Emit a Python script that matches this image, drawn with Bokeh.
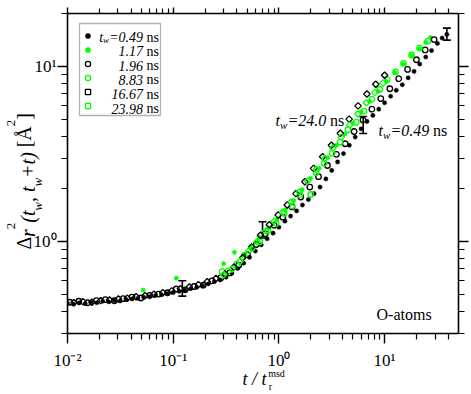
from bokeh.plotting import figure
from bokeh.models import (LogAxis, FixedTicker, Label, Legend, LegendItem,
                          Whisker, TeeHead, ColumnDataSource, BoxAnnotation)
from bokeh.embed import file_html
from bokeh.resources import INLINE
import math

# ---------------- data ----------------
# t_w = 0.49 ns (black filled circles)
x_049 = [0.0100, 0.0114, 0.0129, 0.0147, 0.0167, 0.0190, 0.0215, 0.0245, 0.0278, 0.0316,
         0.0359, 0.0408, 0.0464, 0.0527, 0.0599, 0.0681, 0.0774, 0.0880, 0.100, 0.114,
         0.129, 0.147, 0.167, 0.190, 0.215, 0.245, 0.278, 0.316, 0.359, 0.408,
         0.464, 0.527, 0.599, 0.681, 0.774, 0.880, 1.00, 1.14, 1.29, 1.47,
         1.67, 1.90, 2.15, 2.45, 2.78, 3.16, 3.59, 4.08, 4.64, 5.27,
         5.99, 6.81, 7.74, 8.80, 10.0, 11.4, 12.9, 14.7, 16.7, 19.0,
         21.5, 24.5, 27.8, 31.6, 35.0, 38.8]
y_049 = [0.446, 0.441, 0.448, 0.444, 0.452, 0.449, 0.458, 0.455, 0.463, 0.460,
         0.468, 0.472, 0.476, 0.482, 0.487, 0.494, 0.499, 0.506, 0.514, 0.522,
         0.530, 0.541, 0.550, 0.563, 0.576, 0.592, 0.606, 0.628, 0.662, 0.705,
         0.755, 0.815, 0.885, 0.960, 1.04, 1.12, 1.21, 1.31, 1.40, 1.50,
         1.62, 1.74, 1.88, 2.05, 2.28, 2.55, 2.85, 3.18, 3.55, 3.95,
         4.40, 4.85, 5.25, 5.70, 6.20, 6.75, 7.30, 7.85, 8.60, 9.35,
         10.3, 11.3, 12.3, 13.5, 14.5, 15.2]

# t_w = 1.17 ns (green filled circles)
x_117 = [0.052, 0.107, 0.30, 0.38, 0.46, 0.55, 0.66, 0.80, 0.96, 1.15,
         1.38, 1.66, 2.0, 2.4, 2.9, 3.5, 4.2, 5.0, 6.0, 7.2,
         8.7, 10.4, 12.5, 15.0, 18.0, 21.5, 24.5, 27.2]
y_117 = [0.530, 0.620, 0.750, 0.870, 0.840, 0.930, 1.06, 1.20, 1.34, 1.52,
         1.72, 1.98, 2.30, 2.62, 3.02, 3.55, 4.10, 4.75, 5.50, 6.30,
         7.20, 8.20, 9.20, 10.3, 11.5, 12.6, 13.7, 14.6]

# t_w = 1.96 ns (black open circles)
x_196 = [0.0105, 0.0128, 0.0155, 0.0188, 0.0228, 0.0277, 0.0336, 0.0408, 0.0495, 0.0600,
         0.0728, 0.0884, 0.107, 0.130, 0.158, 0.192, 0.233, 0.282, 0.343, 0.416,
         0.505, 0.612, 0.743, 0.902, 1.09, 1.33, 1.61, 1.96, 2.37, 2.88,
         3.50, 4.24, 5.15, 6.25, 7.58, 9.20, 11.2, 13.6, 16.5, 20.0,
         24.2, 29.4]
y_196 = [0.452, 0.458, 0.449, 0.462, 0.468, 0.461, 0.474, 0.483, 0.478, 0.495,
         0.503, 0.512, 0.538, 0.532, 0.556, 0.566, 0.598, 0.622, 0.664, 0.735,
         0.845, 0.965, 1.11, 1.24, 1.38, 1.58, 1.80, 2.05, 2.35, 2.72,
         3.15, 3.62, 4.25, 4.95, 5.70, 6.55, 7.45, 8.50, 9.60, 10.9,
         12.4, 14.2]

# t_w = 8.83 ns (green open circles)
x_883 = [0.29, 0.33, 0.40, 0.47, 0.56, 0.66, 0.79, 0.94, 1.12, 1.33,
         1.58, 2.0, 2.25, 2.68, 3.19, 3.79, 4.5, 5.4, 6.4, 7.6,
         9.0, 10.6, 12.7, 15.1, 18.0, 21.4, 25.6]
y_883 = [0.675, 0.680, 0.745, 0.840, 0.920, 1.00, 1.16, 1.27, 1.45, 1.60,
         1.85, 1.86, 2.48, 2.80, 3.20, 3.70, 4.35, 4.80, 5.55, 6.50,
         7.40, 8.40, 9.30, 10.4, 11.6, 12.7, 13.9]

# t_w = 16.67 ns (black open diamonds)
x_1667 = [0.0115, 0.0140, 0.0170, 0.0206, 0.0250, 0.0303, 0.0368, 0.0446, 0.0541, 0.0657,
          0.0797, 0.0967, 0.117, 0.142, 0.173, 0.210, 0.254, 0.309, 0.375, 0.455,
          0.552, 0.669, 0.812, 0.985, 1.20, 1.45, 1.76, 2.13, 2.59, 3.14,
          3.81, 4.62, 5.61, 6.80, 8.25, 10.0]
y_1667 = [0.450, 0.456, 0.452, 0.462, 0.466, 0.472, 0.476, 0.486, 0.492, 0.502,
          0.512, 0.525, 0.540, 0.552, 0.570, 0.592, 0.618, 0.655, 0.715, 0.810,
          0.935, 1.09, 1.25, 1.42, 1.62, 1.88, 2.20, 2.62, 3.05, 3.55,
          4.15, 5.00, 5.95, 6.95, 7.90, 8.90]

# t_w = 23.98 ns (green open diamonds)
x_2398 = [0.30, 0.36, 0.43, 0.52, 0.62, 0.75, 0.90, 1.08, 1.30, 1.56,
          1.87, 2.25, 2.70, 3.24, 3.89, 4.67, 5.60, 6.72, 8.07, 9.68]
y_2398 = [0.648, 0.700, 0.775, 0.890, 1.00, 1.15, 1.31, 1.47, 1.68, 1.92,
          2.22, 2.58, 2.98, 3.42, 3.95, 4.62, 5.35, 6.20, 7.10, 8.05]

# error bars
err_x = [0.122, 0.70, 6.27, 38.8]
err_lo = [0.49, 1.05, 4.14, 14.1]
err_hi = [0.60, 1.30, 5.18, 16.5]

x_major = [0.01, 0.1, 1, 10]
x_minor = [0.02, 0.03, 0.04, 0.05, 0.06, 0.07, 0.08, 0.09,
           0.2, 0.3, 0.4, 0.5, 0.6, 0.7, 0.8, 0.9,
           2, 3, 4, 5, 6, 7, 8, 9, 20, 30, 40]
x_labels = ["10\u207b\u00b2", "10\u207b\u00b9", "10\u2070", "10\u00b9"]
y_major = [1, 10]
y_minor = [0.3, 0.4, 0.5, 0.6, 0.7, 0.8, 0.9, 2, 3, 4, 5, 6, 7, 8, 9, 20]
y_labels = ["10\u2070", "10\u00b9"]

legend_nums = ["=0.49", "1.17", "1.96", "8.83", "16.67", "23.98"]

# ---------------- figure ----------------
FONT = "Liberation Serif"
GREEN = "#00ff00"
X0, X1, Y0, Y1 = 0.01, 50.0, 0.3, 20.0

# frame position in page pixels
FL, FB, FW, FH = 67, 335, 391, 322

p = figure(width=471, height=394, x_axis_type="log", y_axis_type="log",
           x_range=(X0, X1), y_range=(Y0, Y1), output_backend="svg",
           toolbar_location=None, min_border_left=67, min_border_right=13,
           min_border_top=13, min_border_bottom=59)
p.outline_line_color = None
p.xgrid.visible = False
p.ygrid.visible = False
p.background_fill_color = "white"
p.border_fill_color = "white"


def px2x(X):
    a, b = math.log10(X0), math.log10(X1)
    return round(10 ** (a + (X - FL) / FW * (b - a)), 9)


def px2y(Y):
    a, b = math.log10(Y0), math.log10(Y1)
    return round(10 ** (a + (FB - Y) / FH * (b - a)), 9)


def style_axis(ax, major_out, minor_out):
    ax.axis_line_width = 1.6
    ax.axis_line_color = "black"
    ax.major_tick_line_width = 1.4
    ax.minor_tick_line_width = 1.2
    ax.major_tick_line_color = "black"
    ax.minor_tick_line_color = "black"
    ax.major_tick_in = 0
    ax.minor_tick_in = 0
    ax.major_tick_out = major_out
    ax.minor_tick_out = minor_out
    ax.major_label_text_font = FONT
    ax.major_label_text_font_size = "17px"
    ax.major_label_text_color = "black"


xa = p.xaxis[0]
xa.ticker = FixedTicker(ticks=x_major, minor_ticks=x_minor)
xa.major_label_overrides = {v: s for v, s in zip(x_major, x_labels)}
style_axis(xa, 10, 6)
xa.major_label_standoff = 7

ya = p.yaxis[0]
ya.ticker = FixedTicker(ticks=y_major, minor_ticks=y_minor)
ya.major_label_overrides = {v: s for v, s in zip(y_major, y_labels)}
style_axis(ya, 10, 6)
ya.major_label_standoff = 1

top = LogAxis(ticker=FixedTicker(ticks=x_major, minor_ticks=x_minor))
style_axis(top, 6, 5)
top.major_label_overrides = {v: "" for v in x_major}
top.major_label_standoff = 0
p.add_layout(top, "above")

right = LogAxis(ticker=FixedTicker(ticks=y_major, minor_ticks=y_minor))
style_axis(right, 10, 6)
right.major_label_overrides = {v: "" for v in y_major}
right.major_label_standoff = 0
p.add_layout(right, "right")

# ---------------- data renderers ----------------
rA = p.scatter(x_049, y_049, marker="circle", size=4.2, fill_color="black",
               line_color="black", line_width=0.5)
rB = p.scatter(x_117, y_117, marker="circle", size=4.2, fill_color=GREEN,
               line_color=GREEN, line_width=0.5)
rC = p.scatter(x_196, y_196, marker="circle", size=5.5, fill_color=None,
               line_color="black", line_width=1.3)
rD = p.scatter(x_883, y_883, marker="circle", size=5.5, fill_color=None,
               line_color=GREEN, line_width=1.3)
rE = p.scatter(x_1667, y_1667, marker="square", angle=math.pi / 4, size=4.6,
               fill_color=None, line_color="black", line_width=1.3)
rF = p.scatter(x_2398, y_2398, marker="square", angle=math.pi / 4, size=4.6,
               fill_color=None, line_color=GREEN, line_width=1.3)

err_src = ColumnDataSource(dict(x=err_x, lo=err_lo, hi=err_hi))
p.add_layout(Whisker(source=err_src, base="x", lower="lo", upper="hi",
                     dimension="height", line_color="black", line_width=1.6,
                     upper_head=TeeHead(size=8, line_width=1.6, line_color="black"),
                     lower_head=TeeHead(size=8, line_width=1.6, line_color="black")))

# ---------------- legend ----------------
p.add_layout(BoxAnnotation(left=79 - FL, right=160 - FL, bottom=FB - 117, top=FB - 25,
                           left_units="screen", right_units="screen",
                           bottom_units="screen", top_units="screen",
                           fill_color="white", fill_alpha=1.0,
                           line_color="black", line_width=1.3))

items = [LegendItem(label=" ", renderers=[r]) for r in (rA, rB, rC, rD, rE, rF)]
leg = Legend(items=items, location=(77 - FL, FB - 118), orientation="vertical",
             padding=4, margin=0, spacing=1, glyph_width=13, glyph_height=13,
             label_height=13, label_width=10, label_standoff=2,
             label_text_font_size="8px", border_line_alpha=0,
             background_fill_alpha=0.0)
p.add_layout(leg)


def lab(text, X, Y, size, style="normal", align="left"):
    p.add_layout(Label(x=X - FL, y=FB - Y, x_units="screen", y_units="screen",
                       text=text, text_font=FONT, text_font_size=f"{size}px",
                       text_font_style=style, text_align=align,
                       text_baseline="alphabetic", text_color="black"))


# legend texts
row_base = [38.5, 52.8, 67.1, 81.4, 95.7, 110.0]
for i, (num, yb) in enumerate(zip(legend_nums, row_base)):
    lab("ns", 158.5, yb, 14, "normal", "right")
    lab(num, 142.6, yb, 14, "italic", "right")
    if i == 0:
        lab("w", 108.6, yb + 3, 9, "italic", "right")
        lab("t", 102.6, yb, 14, "italic", "right")

# in-plot annotations
lab("t", 275, 122, 16, "italic")
lab("w", 279.5, 126, 11, "italic")
lab("=24.0", 287, 122, 16, "italic")
lab("ns", 329.5, 122, 16)

lab("t", 378, 132, 16, "italic")
lab("w", 382.5, 136, 11, "italic")
lab("=0.49", 390, 132, 16, "italic")
lab("ns", 432.5, 132, 16)

lab("O-atoms", 376, 316, 16)


# ---------------- axis titles: text-only axes stacked in the side panels ----
def text_axis(side, ticks, texts, size, style, standoff):
    ax = LogAxis(ticker=FixedTicker(ticks=ticks, minor_ticks=[]))
    ax.axis_line_color = None
    ax.major_tick_line_color = None
    ax.minor_tick_line_color = None
    ax.major_tick_out = 0
    ax.minor_tick_out = 0
    ax.major_tick_in = 0
    ax.minor_tick_in = 0
    ax.major_label_overrides = dict(zip(ticks, texts))
    ax.major_label_text_font = FONT
    ax.major_label_text_font_size = f"{size}px"
    ax.major_label_text_font_style = style
    ax.major_label_text_color = "black"
    ax.major_label_standoff = standoff
    if side == "left":
        ax.major_label_orientation = "vertical"
    p.add_layout(ax, side)


# x title: t / t_r^msd  (inner to outer)
text_axis("below", [px2x(276)], ["msd"], 10, "normal", -5)
text_axis("below", [px2x(254)], ["t / t"], 18, "italic", -13)
text_axis("below", [px2x(270)], ["r"], 10, "normal", -11)

# y title: Δr²(t_w, t_w+t) [Å²]  (inner to outer: subscripts, main, superscripts)
text_axis("left", [px2y(207.0), px2y(182.7)], ["w", "w"], 13, "italic", -15)
text_axis("left", [px2y(233.9), px2y(217.4), px2y(194.8), px2y(165.5)],
          ["r", "(t", ", t", "+t)"], 20, "italic", -12)
text_axis("left", [px2y(243.9), px2y(137.05), px2y(116.65)],
          ["\u0394", "[\u00c5", "]"], 20, "normal", -21)
text_axis("left", [px2y(226.75), px2y(123.25)], ["2", "2"], 13, "normal", -5)

open("out.html", "w").write(file_html(p, INLINE))
